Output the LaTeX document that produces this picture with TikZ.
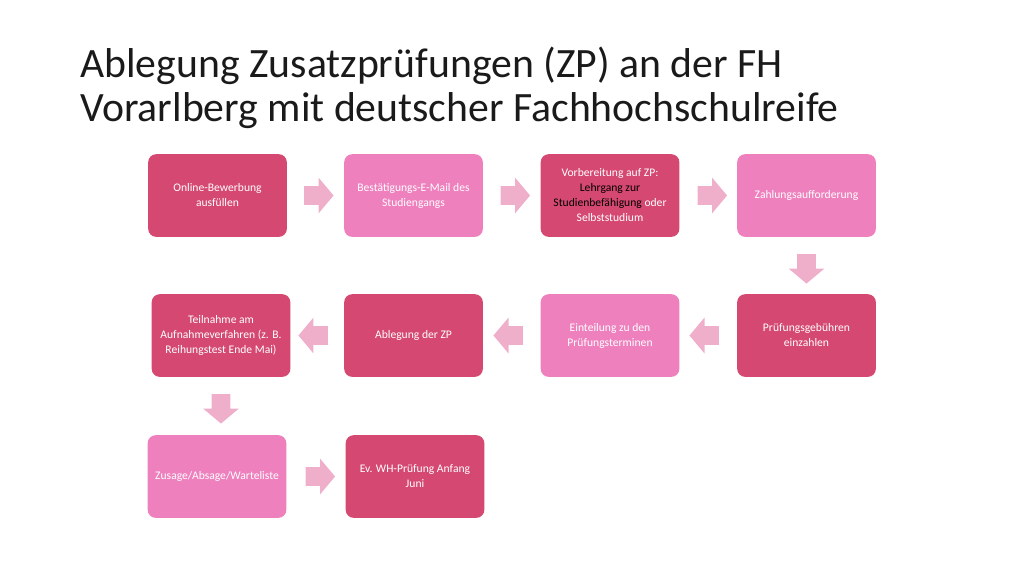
\documentclass[tikz,border=0pt]{standalone}
\usepackage{fontspec}
\setmainfont{Carlito}
\usetikzlibrary{shapes.arrows}
\definecolor{darkpink}{RGB}{213,72,114}
\definecolor{lightpink}{RGB}{238,128,190}
\definecolor{arrowpink}{RGB}{239,175,203}
\definecolor{titlegray}{RGB}{26,26,26}

\begin{document}
\begin{tikzpicture}[x=0.75pt, y=-0.75pt,
			darkbox/.style={rectangle, rounded corners=6pt, fill=darkpink, text=white, minimum width=104pt, minimum height=62pt, align=center, font=\fontsize{8.7}{11.25}\selectfont},
			lightbox/.style={darkbox, fill=lightpink},
			blockarrow/.style={single arrow, fill=arrowpink, inner xsep=0pt, inner ysep=6.75pt, single arrow head extend=6.5pt, minimum height=22pt, single arrow tip angle=100},
			]
			\useasboundingbox (0,0) rectangle (1024,576);
			%Title
				\node[anchor=north west, inner sep=0pt, align=left, text=titlegray, font=\fontsize{31.3}{33}\selectfont]	(title)	at (80,47)
					{Ablegung Zusatzprüfungen (ZP) an der FH\\Vorarlberg mit deutscher Fachhochschulreife};

			%Nodes
				% first row
				\node[darkbox]		(online)		at (217.5,195.5)	{Online-Bewerbung\\ausfüllen};
				\node[lightbox]		(mail)		at (413.5,195.5)	{Bestätigungs-E-Mail des\\Studiengangs};
				\node[darkbox]		(vorbereitung)	at (610,195.5)	{Vorbereitung auf ZP:\\{\color{black}Lehrgang zur}\\{\color{black}Studienbefähigung} oder\\Selbststudium};
				\node[lightbox]		(zahlung)		at (806.5,195.5)	{Zahlungsaufforderung};
				% second row
				\node[darkbox]		(gebuehren)	at (806.5,335.5)	{Prüfungsgebühren\\einzahlen};
				\node[lightbox]		(einteilung)	at (610,335.5)	{Einteilung zu den\\Prüfungsterminen};
				\node[darkbox]		(ablegung)	at (413.5,335.5)	{Ablegung der ZP};
				\node[darkbox]		(teilnahme)	at (221,335.5)	{Teilnahme am\\Aufnahmeverfahren (z. B.\\Reihungstest Ende Mai)};
				% third row
				\node[lightbox]		(zusage)		at (217,476.5)	{Zusage/Absage/Warteliste};
				\node[darkbox]		(wh)			at (415,476.5)	{Ev. WH-Prüfung Anfang\\Juni};

			%Arrows
				\node[blockarrow]	(arrow1)	at (315,195.5)	{};
				\node[blockarrow]	(arrow2)	at (511.5,195.5)	{};
				\node[blockarrow]	(arrow3)	at (708.5,195.5)	{};
				\node[blockarrow, rotate=-90]	(arrow4)	at (806.5,265)	{};
				\node[blockarrow, rotate=180]	(arrow5)	at (708,335.5)	{};
				\node[blockarrow, rotate=180]	(arrow6)	at (512,335.5)	{};
				\node[blockarrow, rotate=180]	(arrow7)	at (317,335.5)	{};
				\node[blockarrow, rotate=-90]	(arrow8)	at (221,405)	{};
				\node[blockarrow]	(arrow9)	at (316.5,476.5)	{};
		\end{tikzpicture}
\end{document}
